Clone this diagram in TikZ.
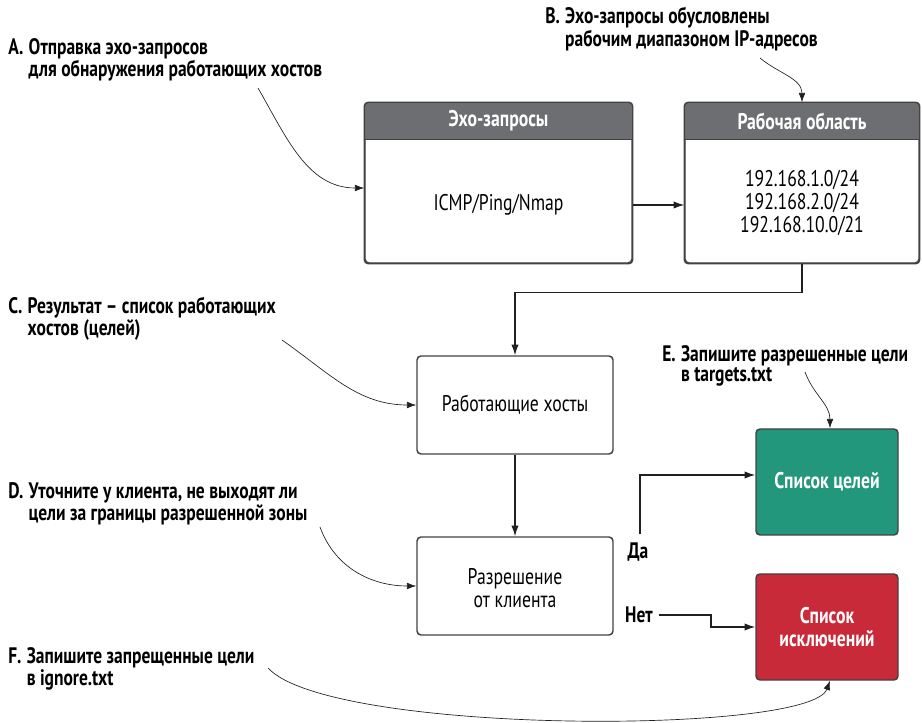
\documentclass[tikz,border=0pt]{standalone}
\usepackage{fontspec}
\setmainfont{PT Sans}[FakeStretch=0.78]
\usetikzlibrary{arrows.meta,calc}
\definecolor{hdr}{HTML}{6D6E71}
\definecolor{grn}{HTML}{23977B}
\definecolor{rd}{HTML}{C82A3A}
\definecolor{ln}{HTML}{231F20}
\begin{document}
\begin{tikzpicture}[x=0.75pt,y=-0.75pt,
  box/.style={draw=ln!85, line width=1.1pt, rounded corners=3pt, fill=white, inner sep=0pt},
  conn/.style={draw=ln, line width=0.9pt, -{Latex[length=8pt,width=5.5pt]}},
  ann/.style={draw=ln, line width=0.5pt, -{Latex[length=7pt,width=5pt]}},
  lbl/.style={font=\bfseries\fontsize{16.8}{15.5}\selectfont, anchor=north west, inner sep=0pt, align=left},
  txt/.style={font=\fontsize{17}{17}\selectfont, align=center},
  wtxt/.style={font=\bfseries\fontsize{17}{17}\selectfont, text=white, align=center}]
\useasboundingbox (0,0) rectangle (922,723);

% main boxes
\node[box, minimum width=200.25pt, minimum height=120pt] (echo) at (498.5,183) {};
\node[box, minimum width=175.5pt, minimum height=120pt] (work) at (802,183) {};
\node[box, minimum width=147pt, minimum height=73.5pt] (hosts) at (515,405) {};
\node[box, minimum width=147pt, minimum height=73.5pt] (perm) at (515,586) {};
\node[box, fill=grn, minimum width=106.5pt, minimum height=79.5pt] (green) at (827,482) {};
\node[box, fill=rd, minimum width=106.5pt, minimum height=79.5pt] (red) at (827,627) {};

% headers
\foreach \b in {echo,work}{
  \begin{scope}
    \clip[rounded corners=3pt] (\b.north west) rectangle (\b.south east);
    \fill[hdr] (\b.north west) rectangle ($(\b.north east)+(0,37)$);
  \end{scope}
  \draw[draw=ln!85, line width=1.1pt] ($(\b.north west)+(0,37)$) -- ($(\b.north east)+(0,37)$);
  \draw[draw=ln!85, line width=1.1pt, rounded corners=3pt] (\b.north west) rectangle (\b.south east);
}
\node[wtxt] (echohead) at (498.5,121) {Эхо-запросы};
\node[wtxt] (workhead) at (802,121) {Рабочая область};

% box texts
\node[txt] (icmp) at (498.5,205) {ICMP/Ping/Nmap};
\node[txt] (ips) at (802,203) {192.168.1.0/24\\192.168.2.0/24\\192.168.10.0/21};
\node[txt] (hoststxt) at (515,405) {Работающие хосты};
\node[txt] (permtxt) at (515,588) {Разрешение\\от клиента};
\node[wtxt] (greentxt) at (827,482) {Список целей};
\node[wtxt] (redtxt) at (827,627) {Список\\исключений};

% labels Да / Нет
\node[font=\bfseries\fontsize{16.8}{15.5}\selectfont, inner sep=0pt] (da) at (638,552) {Да};
\node[font=\bfseries\fontsize{16.8}{15.5}\selectfont, inner sep=0pt] (net) at (639,615) {Нет};

% connectors
\draw[conn] (echo.east |- icmp) -- (work.west |- icmp);
\draw[conn] (work.south) -- ++(0,29) -| (hosts.north);
\draw[conn] (hosts.south) -- (perm.north);
\draw[conn] ($(da.north)+(2,-8)$) |- ($(green.west)+(0,-7)$);
\draw[conn] ($(net.east)+(6,0)$) -- ($(net.east)+(58,0)$) |- (red.west);

% annotations
\node[lbl] (la) at (8,38) {\begin{tabular}{@{}l@{\hspace{4pt}}l@{}}A. & Отправка эхо-запросов\\ & для обнаружения работающих хостов\end{tabular}};
\node[lbl] (lb) at (545,7) {\begin{tabular}{@{}l@{\hspace{4pt}}l@{}}B. & Эхо-запросы обусловлены\\ & рабочим диапазоном IP-адресов\end{tabular}};
\node[lbl] (lc) at (8,297) {\begin{tabular}{@{}l@{\hspace{4pt}}l@{}}C. & Результат – список работающих\\ & хостов (целей)\end{tabular}};
\node[lbl] (ld) at (8,482) {\begin{tabular}{@{}l@{\hspace{4pt}}l@{}}D. & Уточните у клиента, не выходят ли\\ & цели за границы разрешенной зоны\end{tabular}};
\node[lbl] (le) at (662,345) {\begin{tabular}{@{}l@{\hspace{4pt}}l@{}}E. & Запишите разрешенные цели\\ & в targets.txt\end{tabular}};
\node[lbl] (lf) at (8,647) {\begin{tabular}{@{}l@{\hspace{4pt}}l@{}}F. & Запишите запрещенные цели\\ & в ignore.txt\end{tabular}};

\coordinate (sa) at (258,88);
\coordinate (sb) at (760,58);
\coordinate (sc) at (282,340);
\coordinate (sd) at (320,527);
\coordinate (se) at (805,372);
\coordinate (sf) at (268,668);
\draw[ann] (sa) to[out=-60,in=180] ($(echo.west)+(0,5)$);
\draw[ann] (sb) to[out=-40,in=90] (work.north);
\draw[ann] (sc) to[out=-35,in=180] (hosts.west);
\draw[ann] (sd) to[out=-70,in=180] (perm.west);
\draw[ann] (se) to[out=-70,in=90] ($(green.north)+(3,0)$);
\draw[ann] (sf) .. controls (330,735) and (810,735) .. ($(red.south)+(3,0)$);
\end{tikzpicture}
\end{document}
